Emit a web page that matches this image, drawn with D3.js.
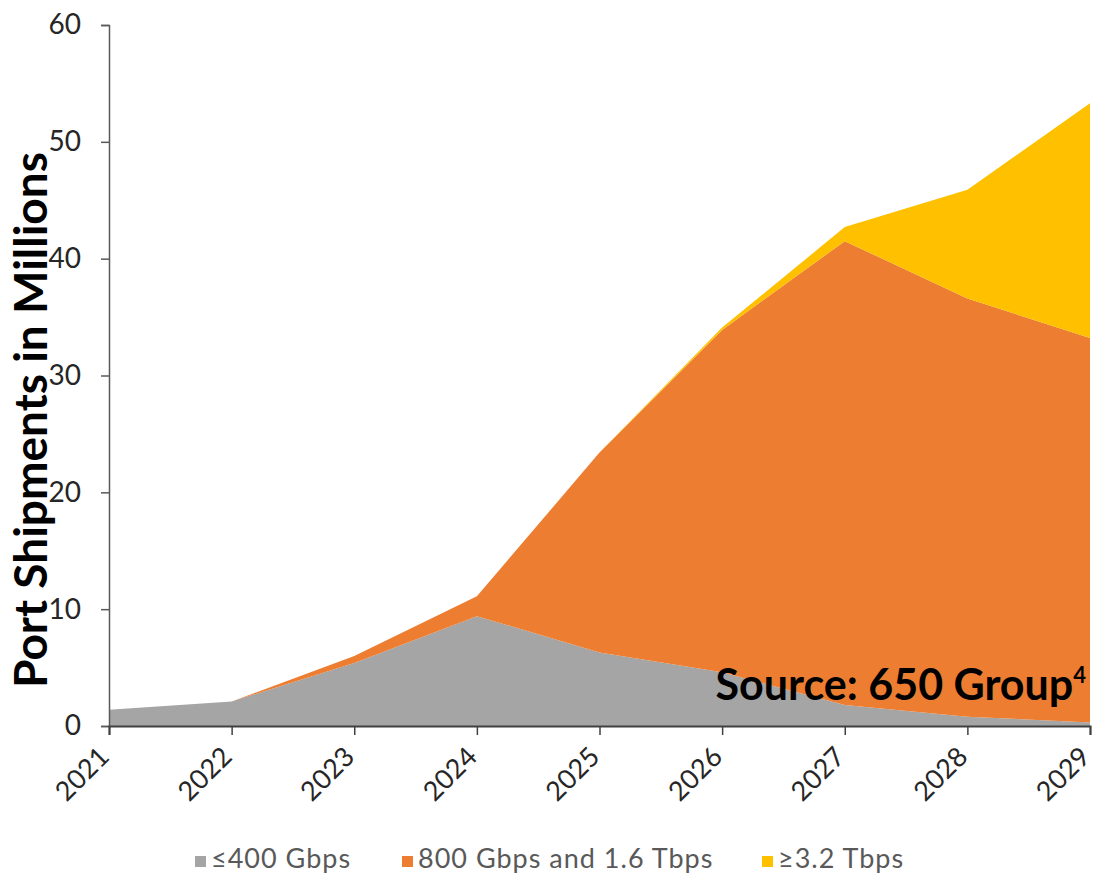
<!DOCTYPE html>
<html>
<head>
<meta charset="utf-8">
<script src="https://cdn.jsdelivr.net/npm/d3@7"></script>
<style>
  html, body { margin: 0; padding: 0; background: #fff; }
  svg { display: block; font-family: Lato, "Open Sans", sans-serif; }
</style>
</head>
<body>
<svg id="chart" width="1097" height="879"></svg>
<script>
// Port shipments by speed class, millions of ports
const years = ["2021", "2022", "2023", "2024", "2025", "2026", "2027", "2028", "2029"];
const low400 = [1.4, 2.1, 5.4, 9.4, 6.3, 4.6, 1.8, 0.8, 0.3];
const mid800 = [0.0, 0.0, 0.6, 1.7, 17.1, 29.3, 39.7, 35.8, 32.9];
const high3200 = [0.0, 0.0, 0.0, 0.0, 0.0, 0.2, 1.2, 9.3, 20.1];
const seriesNames = ["≤400 Gbps", "800 Gbps and 1.6 Tbps", "≥3.2 Tbps"];
const seriesKeys = ["low", "mid", "high"];
const seriesColors = ["#A5A5A5", "#ED7D31", "#FFC000"];
const yTicks = [0, 10, 20, 30, 40, 50, 60];

const rows = years.map((y, i) => ({ year: y, low: low400[i], mid: mid800[i], high: high3200[i] }));

const svg = d3.select("#chart");
const plotLeft = 109, plotRight = 1090, plotTop = 25, plotBottom = 726;

const x = d3.scalePoint().domain(years).range([plotLeft, plotRight]);
const yScale = d3.scaleLinear().domain([0, 60]).range([plotBottom, plotTop]);

const stacked = d3.stack().keys(seriesKeys)(rows);
const area = d3.area()
  .x(d => x(d.data.year))
  .y0(d => yScale(d[0]))
  .y1(d => yScale(d[1]));

svg.append("g").selectAll("path")
  .data(stacked)
  .join("path")
  .attr("d", area)
  .attr("fill", (d, i) => seriesColors[i]);

// Y axis
const yAxis = svg.append("g")
  .attr("transform", `translate(${plotLeft},0)`)
  .call(d3.axisLeft(yScale).tickValues(yTicks).tickSize(8).tickPadding(20));
yAxis.select(".domain").attr("stroke", "#595959").attr("stroke-width", 1.5);
yAxis.selectAll(".tick line").attr("stroke", "#595959").attr("stroke-width", 1.5);
yAxis.selectAll(".tick text")
  .attr("fill", "#262626")
  .style("font-size", "28px")
  .style("font-family", "Lato, sans-serif");

// X axis
const xAxis = svg.append("g")
  .attr("transform", `translate(0,${plotBottom})`)
  .call(d3.axisBottom(x).tickSize(9).tickPadding(0));
xAxis.select(".domain").attr("stroke", "#404040").attr("stroke-width", 2);
xAxis.selectAll(".tick line").attr("stroke", "#404040").attr("stroke-width", 1.5);
xAxis.selectAll(".tick text")
  .attr("fill", "#262626")
  .style("font-size", "27px")
  .style("font-family", "Lato, sans-serif")
  .attr("text-anchor", "end")
  .attr("dy", null)
  .attr("transform", "translate(-5,26) rotate(-45)");

// Y axis title
svg.append("text")
  .attr("transform", "translate(47,420) rotate(-90)")
  .attr("text-anchor", "middle")
  .attr("fill", "#000")
  .style("font-size", "46px")
  .style("font-weight", "bold")
  .text("Port Shipments in Millions");

// Source note
const src = svg.append("text")
  .attr("x", 1086)
  .attr("y", 700)
  .attr("text-anchor", "end")
  .attr("fill", "#000")
  .style("font-size", "43px")
  .style("font-weight", "bold");
src.append("tspan").text("Source: 650 Group");
src.append("tspan").attr("dy", -17).style("font-size", "22px").text("4");

// Legend
const legendItems = [
  { name: seriesNames[0], color: seriesColors[0], x: 195 },
  { name: seriesNames[1], color: seriesColors[1], x: 402 },
  { name: seriesNames[2], color: seriesColors[2], x: 762 }
];
const legend = svg.append("g");
legend.selectAll("rect")
  .data(legendItems)
  .join("rect")
  .attr("x", d => d.x)
  .attr("y", 856)
  .attr("width", 11)
  .attr("height", 11)
  .attr("fill", d => d.color);
legend.selectAll("text")
  .data(legendItems)
  .join("text")
  .attr("x", d => d.x + 16)
  .attr("y", 868)
  .attr("fill", "#595959")
  .style("font-size", "27px")
  .style("letter-spacing", "1px")
  .text(d => d.name);
</script>
</body>
</html>
